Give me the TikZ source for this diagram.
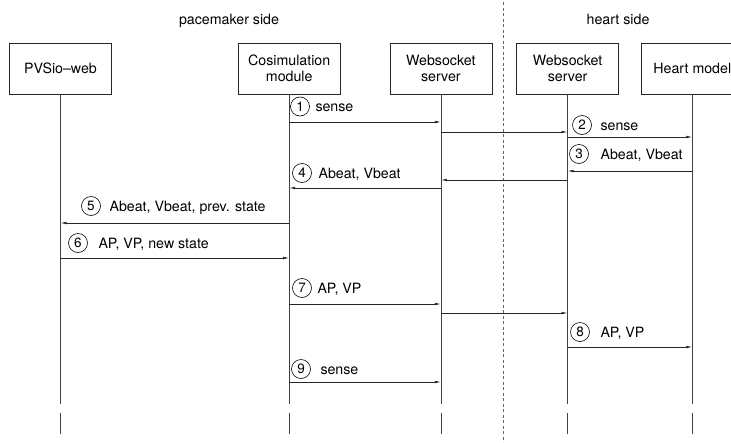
\documentclass[tikz,border=0pt]{standalone}
\usepackage{fontspec}
\setmainfont{TeX Gyre Heros}
\usetikzlibrary{arrows.meta,positioning}
\tikzstyle{actor}=[
	draw=black!85,
	line width=0.7pt,
	rectangle,
	align=center,
	minimum width=102pt,
	minimum height=51pt,
	inner sep=0pt,
	font=\fontsize{14.2}{16}\selectfont]
\tikzstyle{life}=[
	draw=black!75,
	line width=0.7pt]
\tikzstyle{msg}=[
	draw=black!85,
	line width=0.7pt,
	-{Latex[length=6pt,width=2.6pt]}]
\tikzstyle{num}=[
	circle,
	draw=black,
	line width=0.6pt,
	minimum size=19pt,
	inner sep=0pt,
	font=\fontsize{13.5}{14}\selectfont]
\tikzstyle{lbl}=[
	inner sep=0pt,
	text height=10pt,
	text depth=0pt,
	font=\fontsize{14.2}{16}\selectfont]
\tikzstyle{side}=[
	draw=black!60,
	line width=0.7pt,
	dash pattern=on 3pt off 2.5pt]
\begin{document}
\begin{tikzpicture}[x=1pt,y=-1pt]
	\useasboundingbox (0,0) rectangle (731,442);
	\begin{scope}
		\node[actor]	(pvs)	at (60.5,68.5)	{PVSio--web};
		\node[actor]	(cosim)	[right=126pt of pvs]	{Cosimulation\\module};
		\node[actor]	(wsp)	[right=49pt of cosim]	{Websocket\\server};
		\node[actor]	(wsh)	[right=24pt of wsp]	{Websocket\\server};
		\node[actor]	(heart)	[right=22pt of wsh]	{Heart model};
	\end{scope}
	\node[lbl] (pmside) at (229,19) {pacemaker side};
	\node[lbl] (htside) at (618,19) {heart side};
	\coordinate (divtop) at (503,2);
	\coordinate (divbot) at (503,442);
	\draw[side] (divtop) -- (divbot);
	% lifelines
	\foreach \b in {pvs,cosim,wsp,wsh,heart}{
		\draw[life] (\b.south) -- (\b.south |- 0,404);
		\draw[life] (\b.south |- 0,413) -- (\b.south |- 0,434);
	}
	% messages
	\draw[msg] (cosim |- 0,122) -- (wsp |- 0,122);
	\draw[msg] (wsp |- 0,132) -- (wsh |- 0,132);
	\draw[msg] (wsh |- 0,137) -- (heart |- 0,137);
	\draw[msg] (heart |- 0,171) -- (wsh |- 0,171);
	\draw[msg] (wsh |- 0,180) -- (wsp |- 0,180);
	\draw[msg] (wsp |- 0,188) -- (cosim |- 0,188);
	\draw[msg] (cosim |- 0,223) -- (pvs |- 0,223);
	\draw[msg] (pvs |- 0,258) -- (cosim |- 0,258);
	\draw[msg] (cosim |- 0,304) -- (wsp |- 0,304);
	\draw[msg] (wsp |- 0,313) -- (wsh |- 0,313);
	\draw[msg] (wsh |- 0,347) -- (heart |- 0,347);
	\draw[msg] (cosim |- 0,382) -- (wsp |- 0,382);
	% labels
	\node[num] (n1) at (300,106.5) {1};
	\node[lbl,right=5.5pt of n1] (t1) {sense};
	\node[num] (n2) at (582,125) {2};
	\node[lbl,right=8.5pt of n2] (t2) {sense};
	\node[num] (n3) at (579,154) {3};
	\node[lbl,right=11.5pt of n3] (t3) {Abeat, Vbeat};
	\node[num] (n4) at (302,173) {4};
	\node[lbl,right=6.5pt of n4] (t4) {Abeat, Vbeat};
	\node[num] (n5) at (91,206) {5};
	\node[lbl,right=8.5pt of n5] (t5) {Abeat, Vbeat, prev. state};
	\node[num] (n6) at (78,243) {6};
	\node[lbl,right=10.5pt of n6] (t6) {AP, VP, new state};
	\node[num] (n7) at (302,288) {7};
	\node[lbl,right=5.5pt of n7] (t7) {AP, VP};
	\node[num] (n8) at (580,332) {8};
	\node[lbl,right=10.5pt of n8] (t8) {AP, VP};
	\node[num] (n9) at (301,369) {9};
	\node[lbl,right=9.5pt of n9] (t9) {sense};
\end{tikzpicture}
\end{document}
